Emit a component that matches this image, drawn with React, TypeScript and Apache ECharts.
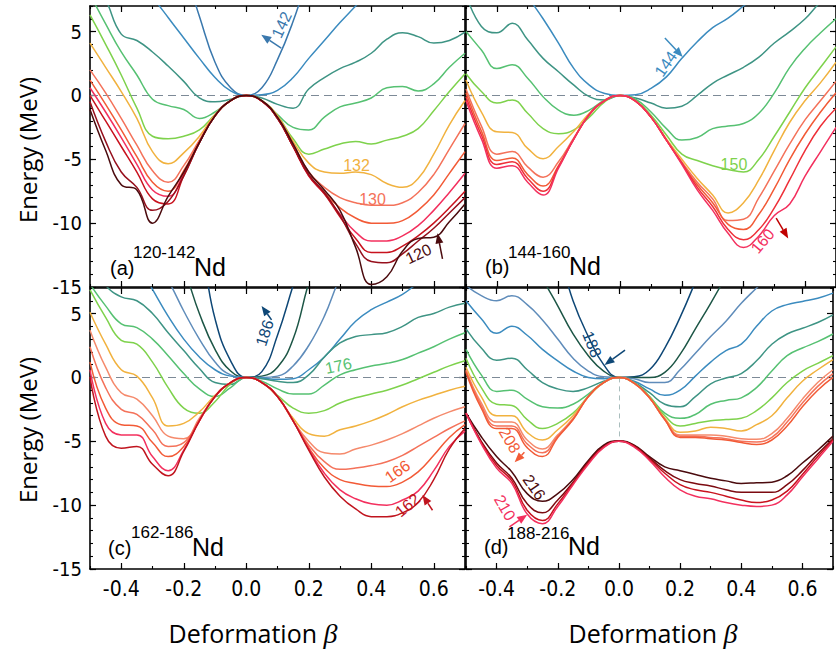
import React, { useEffect, useRef } from 'react';
import * as echarts from 'echarts';

const BETA = [-0.5,-0.45,-0.4,-0.35,-0.3,-0.25,-0.2,-0.15,-0.1,-0.05,0,0.05,0.1,0.15,0.2,0.25,0.3,0.35,0.4,0.45,0.5,0.55,0.6,0.65,0.7];
const X_TICKS_MAJOR = [-0.4,-0.2,0,0.2,0.4,0.6];
const Y_TICKS_MAJOR = [-15,-10,-5,0,5];

// Panel (a) 120-142 Nd
const A120 = [-1.1,-4.3,-7.0,-7.4,-10.0,-7.9,-6.0,-3.7,-1.6,-0.4,0,-0.4,-1.7,-3.8,-6.0,-7.4,-9.0,-11.9,-14.8,-14.2,-12.2,-11.2,-11.1,-9.9,-8.5];
const A122 = [-0.5,-3.6,-6.0,-7.2,-9.0,-8.3,-6.3,-3.7,-1.6,-0.4,0,-0.45,-1.8,-4.0,-6.2,-7.6,-9.4,-11.6,-13.0,-13.1,-12.4,-11.4,-10.4,-9.2,-8.0];
const A124 = [0.0,-2.0,-4.0,-6.0,-8.1,-8.5,-6.3,-3.7,-1.6,-0.4,0,-0.45,-1.8,-4.0,-6.3,-7.7,-9.5,-11.2,-12.3,-12.3,-11.8,-11.0,-10.0,-8.8,-7.5];
const A126 = [0.6,-1.3,-3.3,-5.4,-7.4,-7.9,-6.1,-3.7,-1.6,-0.4,0,-0.45,-1.8,-4.0,-6.3,-7.7,-9.3,-10.7,-11.4,-11.4,-11.0,-10.2,-9.0,-7.6,-6.1];
const A128 = [1.2,-0.7,-2.7,-4.8,-6.8,-7.5,-5.9,-3.6,-1.6,-0.4,0,-0.45,-1.75,-4.0,-6.2,-7.6,-8.8,-9.6,-10.0,-10.0,-9.8,-9.0,-7.8,-6.1,-4.4];
const A130 = [2.0,0.2,-1.8,-3.9,-5.9,-6.8,-5.5,-3.5,-1.6,-0.4,0,-0.45,-1.7,-3.8,-6.0,-7.2,-8.0,-8.4,-8.6,-8.6,-8.4,-7.6,-6.2,-4.2,-2.2];
const A132 = [4.1,2.2,0.3,-1.8,-4.4,-5.35,-4.5,-3.2,-1.5,-0.4,0,-0.4,-1.6,-3.6,-5.3,-6.0,-6.1,-6.0,-6.2,-6.9,-7.2,-6.5,-4.6,-2.3,-0.4];
const A134 = [6.3,4.0,1.6,-1.0,-3.2,-3.4,-3.2,-2.7,-1.5,-0.4,0,-0.4,-1.6,-3.4,-4.6,-4.2,-3.8,-3.6,-3.8,-3.5,-3.2,-2.6,-1.2,0.3,1.7];
const A136 = [7.9,5.6,3.4,1.6,-0.3,-0.8,-1.1,-1.8,-1.3,-0.4,0,-0.4,-1.5,-2.5,-2.7,-1.7,-0.9,-0.6,-0.2,0.6,0.7,0.35,0.9,2.2,3.3];
const A138 = [9.5,7.5,4.8,4.3,3.4,2.3,1.1,-0.2,-0.5,-0.3,0,-0.2,-0.7,-1.0,0.5,1.4,2.1,2.6,3.3,4.4,4.9,4.6,4.1,4.3,4.95];
const A140 = [14,13,12,10,7.8,6.1,4.5,2.9,1.4,0.35,0,0.05,0.4,1.4,2.9,4.3,5.7,7.0,8.3,9.5,10.5,11.5,12.5,13.5,14];
const A142 = [14,14,14,14,14,13,10,6.2,2.6,0.6,0,0.6,2.8,5.8,9.5,13,14,14,14,14,14,14,14,14,14];

// Panel (b) 144-160 Nd
const B144 = [14,13,12,10,7.8,6.0,4.1,2.1,0.8,0.15,0,0.05,0.55,1.45,2.9,4.2,5.3,6.05,7.0,8.0,9,10,11,12,13];
const B146 = [7.9,5.4,4.9,5.65,4.35,2.9,1.85,0.8,-0.1,-0.35,0,-0.2,-0.6,-1.0,-0.85,0.0,0.95,1.6,2.2,3.0,4.1,5.0,6.0,7.3,8.2];
const B148 = [5.0,3.55,2.1,2.4,1.35,-0.1,-1.15,-1.55,-1.15,-0.35,0,-0.3,-1.3,-2.6,-3.5,-3.3,-2.6,-2.4,-2.2,-1.4,0.2,2.2,3.7,4.9,6.0];
const B150 = [1.7,0.3,-0.6,-0.35,-1.4,-2.6,-3.0,-2.7,-1.7,-0.5,0,-0.4,-1.55,-3.1,-4.6,-5.1,-5.5,-5.8,-6.0,-5.0,-3.2,-1.3,0.6,2.2,3.8];
const B152 = [1.2,-1.3,-2.85,-2.9,-4.15,-4.95,-4.0,-2.8,-1.4,-0.4,0,-0.45,-1.7,-3.4,-5.0,-6.5,-7.8,-9.2,-8.4,-6.6,-4.3,-2.1,-0.4,1.0,2.6];
const B154 = [0.5,-2.4,-4.6,-4.4,-5.6,-6.4,-5.2,-3.3,-1.5,-0.4,0,-0.45,-1.7,-3.5,-5.2,-6.8,-8.1,-9.8,-9.7,-8.0,-5.9,-3.8,-1.9,-0.4,1.1];
const B156 = [0.2,-2.8,-5.1,-4.9,-6.2,-7.1,-5.5,-3.4,-1.5,-0.4,0,-0.45,-1.7,-3.5,-5.3,-7.0,-8.4,-10.1,-10.5,-9.3,-7.3,-5.0,-3.0,-1.3,0.2];
const B158 = [-0.1,-3.1,-5.4,-5.2,-6.5,-7.5,-5.6,-3.4,-1.5,-0.4,0,-0.45,-1.7,-3.5,-5.3,-7.2,-8.7,-10.5,-11.3,-10.5,-8.8,-6.6,-4.3,-2.4,-1.0];
const B160 = [-0.4,-3.4,-5.7,-5.5,-6.8,-7.8,-5.7,-3.4,-1.5,-0.4,0,-0.45,-1.7,-3.5,-5.4,-7.4,-9.0,-10.8,-11.9,-11.0,-9.4,-8.5,-6.3,-4.4,-2.5];

// Panel (c) 162-186 Nd
const C162 = [0.05,-4.6,-5.55,-5.4,-6.8,-7.7,-5.8,-3.4,-1.5,-0.4,0,-0.4,-1.5,-3.4,-5.7,-7.8,-9.3,-10.3,-10.9,-10.9,-10.6,-9.8,-8.0,-5.6,-4.0];
const C164 = [0.6,-3.6,-4.5,-4.5,-6.2,-7.3,-5.7,-3.4,-1.5,-0.4,0,-0.4,-1.5,-3.4,-5.6,-7.5,-8.8,-9.5,-9.9,-10.0,-9.6,-8.9,-7.3,-5.4,-4.2];
const C166 = [1.2,-2.4,-3.7,-3.8,-5.1,-6.2,-5.4,-3.4,-1.5,-0.4,0,-0.4,-1.5,-3.4,-5.5,-7.1,-8.0,-8.3,-8.5,-8.55,-8.2,-7.4,-6.1,-4.7,-3.7];
const C168 = [2.4,-0.8,-2.5,-2.9,-4.1,-5.4,-5.1,-3.3,-1.5,-0.4,0,-0.4,-1.5,-3.4,-5.3,-6.6,-7.2,-7.1,-6.9,-6.6,-6.1,-5.4,-4.7,-4.0,-3.4];
const C170 = [3.7,0.8,-1.2,-1.7,-3.0,-4.6,-4.8,-3.2,-1.5,-0.4,0,-0.4,-1.5,-3.4,-5.0,-5.9,-6.0,-5.6,-5.3,-4.9,-4.4,-3.8,-3.2,-2.7,-2.3];
const C172 = [5.1,2.6,0.6,0.1,-1.6,-3.8,-3.6,-2.7,-1.4,-0.4,0,-0.4,-1.5,-3.2,-4.4,-4.6,-4.1,-3.8,-3.4,-2.9,-2.3,-1.8,-1.4,-1.0,-0.7];
const C174 = [6.85,4.7,2.9,2.6,1.2,-0.8,-2.4,-2.8,-1.9,-0.5,0,-0.4,-1.4,-2.4,-2.8,-2.6,-2.0,-1.6,-1.3,-1.0,-0.6,-0.1,0.4,0.9,1.3];
const C176 = [7.3,5.6,4.2,3.9,3.0,1.7,0.3,-0.9,-1.5,-0.8,0,-0.3,-0.9,-1.3,-1.3,-0.6,0.2,0.6,0.9,1.1,1.4,1.9,2.4,3.0,3.5];
const C178 = [9.0,7.2,6.3,6.0,5.0,3.5,2.1,0.7,-0.4,-0.55,0,-0.1,-0.3,-0.4,0.2,1.6,2.7,3.2,3.35,3.5,4.0,4.7,5.0,5.5,5.8];
const C180 = [14,13,11,9,6.9,4.8,3.0,1.6,0.6,0.1,0,-0.05,-0.15,-0.1,0.6,1.6,3.0,4.4,5.3,5.9,6.5,7.4,8.3,9.2,10];
const C182 = [14,14,13,11,9.5,7.6,5.2,3.0,1.2,0.2,0,0.0,0.1,0.9,2.5,4.8,7.8,10,12,13,14,14,14,14,14];
const C184 = [14,14,14,14,13,11,8.5,5.0,2.2,0.5,0,0.1,0.8,3.0,7.4,11,14,14,14,14,14,14,14,14,14];
const C186 = [14,14,14,14,14,14,13,10.5,4.6,1.3,0,0.45,3.3,7.2,11,14,14,14,14,14,14,14,14,14,14];

// Panel (d) 188-216 Nd
const D188 = [14,14,14,14,14,13,10,6.0,3.2,1.0,0,0.05,0.6,2.3,4.7,7.5,10.5,13,14,14,14,14,14,14,14];
const D190 = [14,14,14,13,10.5,7.8,5.6,3.4,1.7,0.5,0,0.0,0.0,0.4,1.8,3.8,5.8,7.9,10,12,14,14,14,14,14];
const D192 = [7.2,6.4,6.0,6.4,5.7,4.5,3.0,1.5,0.5,0.05,0,-0.1,-0.4,-0.4,0.6,1.9,3.2,4.4,5.8,7.0,8.2,9.4,10.5,11.5,12.5];
const D194 = [6.0,4.6,3.45,4.0,3.3,2.2,1.3,0.5,0.0,-0.1,0,-0.3,-0.9,-1.4,-1.0,0.1,1.2,2.1,2.6,4.0,5.2,5.7,5.95,6.2,6.6];
const D196 = [3.8,2.3,1.35,1.5,0.6,-0.4,-0.9,-1.1,-0.8,-0.3,0,-0.4,-1.2,-2.1,-2.3,-1.5,-0.5,-0.05,0.3,1.3,2.6,3.4,3.85,4.3,4.9];
const D198 = [2.2,0.2,-1.1,-1.0,-1.7,-2.3,-2.4,-2.1,-1.3,-0.4,0,-0.4,-1.5,-2.8,-3.2,-2.9,-2.1,-1.8,-1.6,-0.8,0.5,1.7,2.3,2.8,3.4];
const D200 = [1.5,-0.8,-2.1,-2.2,-3.3,-4.0,-3.6,-2.8,-1.5,-0.4,0,-0.45,-1.5,-3.0,-3.8,-3.6,-3.4,-3.3,-3.2,-2.6,-1.6,-0.4,0.5,1.1,1.7];
const D202 = [0.8,-1.5,-3.0,-3.0,-4.3,-4.9,-4.1,-3.0,-1.5,-0.4,0,-0.45,-1.6,-3.2,-4.3,-4.2,-3.9,-4.0,-4.2,-3.7,-3.0,-1.6,-0.3,0.6,1.4];
const D204 = [0.6,-2.0,-3.5,-3.5,-4.9,-5.6,-4.5,-3.2,-1.5,-0.4,0,-0.45,-1.6,-3.3,-4.5,-4.5,-4.5,-4.6,-4.8,-4.85,-4.4,-3.2,-1.7,-0.4,0.6];
const D206 = [0.5,-2.2,-3.8,-3.8,-5.2,-5.9,-4.6,-3.3,-1.5,-0.4,0,-0.45,-1.6,-3.3,-4.6,-4.6,-4.7,-4.8,-5.0,-5.05,-4.7,-3.5,-2.0,-0.7,0.3];
const D208 = [0.4,-2.4,-4.0,-4.0,-5.5,-6.2,-4.7,-3.3,-1.5,-0.4,0,-0.45,-1.6,-3.3,-4.7,-4.7,-4.8,-4.9,-5.1,-5.25,-4.9,-3.8,-2.3,-1.0,0.0];
const D210 = [-2.8,-5.2,-7.1,-8.3,-10.7,-11.45,-10.1,-8.4,-6.8,-5.5,-5.0,-5.45,-6.5,-7.8,-8.8,-9.3,-9.5,-9.8,-10.0,-10.1,-10.0,-9.2,-7.8,-6.4,-5.0];
const D212 = [-2.8,-5.1,-6.9,-8.1,-10.4,-11.2,-9.9,-8.3,-6.7,-5.45,-5.0,-5.4,-6.4,-7.5,-8.4,-8.8,-9.0,-9.3,-9.6,-9.8,-9.6,-8.9,-7.6,-6.2,-4.9];
const D214 = [-2.8,-5.0,-6.7,-7.9,-9.9,-10.6,-9.6,-8.2,-6.6,-5.4,-5.0,-5.35,-6.3,-7.3,-8.0,-8.3,-8.5,-8.8,-9.0,-9.0,-9.0,-8.4,-7.3,-6.0,-4.8];
const D216 = [-2.8,-4.65,-6.2,-7.4,-9.1,-9.7,-9.1,-8.0,-6.5,-5.3,-4.96,-5.3,-6.2,-7.0,-7.3,-7.6,-7.9,-8.1,-8.3,-8.25,-8.2,-7.7,-6.7,-5.7,-4.6];

const COL = {
  maroon: '#4b0b0e', darkred: '#7c0a10', crimson: '#c8121e', red162: '#c0141e',
  red: '#ee3038', pink: '#f3305e', orangered: '#f25a36', salmon: '#f4725a',
  lightsalmon: '#f58a6c', orange: '#f1b23f', lime: '#7ed24c', green: '#56c172',
  teal: '#3e9484', blue: '#3b8bbf', blue2: '#3a78ad', steel: '#5f8cba',
  darkgreen: '#1d5646', navy: '#0e4776',
};

type Curve = [string, number[], string];
const PANELS: { left: number; top: number; showX: boolean; showY: boolean; curves: Curve[] }[] = [
  { left: 90, top: 6, showX: false, showY: true, curves: [
    ['142', A142, COL.blue2], ['140', A140, COL.blue], ['138', A138, COL.teal], ['136', A136, COL.green],
    ['134', A134, COL.lime], ['132', A132, COL.orange], ['130', A130, COL.salmon], ['128', A128, COL.orangered],
    ['126', A126, COL.pink], ['124', A124, COL.crimson], ['122', A122, '#960f1c'], ['120', A120, COL.maroon],
  ] },
  { left: 466, top: 6, showX: false, showY: false, curves: [
    ['144', B144, COL.blue], ['146', B146, COL.teal], ['148', B148, COL.green], ['150', B150, COL.lime],
    ['152', B152, COL.orange], ['154', B154, COL.salmon], ['156', B156, COL.orangered], ['158', B158, COL.red],
    ['160', B160, COL.pink],
  ] },
  { left: 90, top: 288, showX: true, showY: true, curves: [
    ['186', C186, COL.navy], ['184', C184, COL.darkgreen], ['182', C182, COL.steel], ['180', C180, COL.blue],
    ['178', C178, COL.teal], ['176', C176, COL.green], ['174', C174, COL.lime], ['172', C172, COL.orange],
    ['170', C170, COL.lightsalmon], ['168', C168, COL.salmon], ['166', C166, COL.orangered], ['164', C164, COL.pink],
    ['162', C162, COL.red162],
  ] },
  { left: 466, top: 288, showX: true, showY: false, curves: [
    ['188', D188, COL.navy], ['190', D190, COL.darkgreen], ['192', D192, COL.steel], ['194', D194, COL.blue],
    ['196', D196, COL.teal], ['198', D198, COL.green], ['200', D200, COL.lime], ['202', D202, COL.orange],
    ['204', D204, COL.lightsalmon], ['206', D206, COL.salmon], ['208', D208, COL.orangered],
    ['216', D216, COL.maroon], ['214', D214, COL.darkred], ['212', D212, COL.crimson], ['210', D210, COL.pink],
  ] },
];

const LABELS = [
  { g: 0, text: '142', x: 0.113, y: 5.53, rot: 65, color: COL.blue2 },
  { g: 0, text: '132', x: 0.353, y: -5.5, rot: 0, color: COL.orange },
  { g: 0, text: '130', x: 0.404, y: -8.15, rot: 0, color: COL.salmon },
  { g: 0, text: '120', x: 0.551, y: -12.4, rot: 25, color: COL.maroon },
  { g: 1, text: '144', x: 0.148, y: 2.46, rot: 55, color: COL.blue },
  { g: 1, text: '150', x: 0.369, y: -5.4, rot: 0, color: COL.lime },
  { g: 1, text: '160', x: 0.462, y: -11.4, rot: 50, color: COL.pink },
  { g: 2, text: '186', x: 0.059, y: 3.48, rot: 72, color: COL.navy },
  { g: 2, text: '176', x: 0.295, y: 0.9, rot: 12, color: COL.green },
  { g: 2, text: '166', x: 0.484, y: -7.35, rot: 35, color: COL.orangered },
  { g: 2, text: '162', x: 0.516, y: -10.0, rot: 40, color: COL.red162 },
  { g: 3, text: '188', x: -0.088, y: 2.6, rot: -68, color: COL.navy },
  { g: 3, text: '208', x: -0.357, y: -4.92, rot: -60, color: COL.orangered },
  { g: 3, text: '216', x: -0.277, y: -8.6, rot: -55, color: COL.maroon },
  { g: 3, text: '210', x: -0.373, y: -10.2, rot: -60, color: COL.pink },
];
const ARROWS = [
  { g: 0, from: [0.112, 3.7], to: [0.048, 4.75], color: COL.blue2 },
  { g: 0, from: [0.628, -12.8], to: [0.612, -10.8], color: COL.maroon },
  { g: 1, from: [0.145, 4.5], to: [0.203, 3.0], color: COL.blue },
  { g: 1, from: [0.506, -9.6], to: [0.545, -11.2], color: '#c00000' },
  { g: 2, from: [0.081, 4.5], to: [0.049, 5.6], color: COL.navy },
  { g: 2, from: [0.596, -10.4], to: [0.564, -9.2], color: COL.red162 },
  { g: 3, from: [0.02, 2.14], to: [-0.047, 0.97], color: COL.navy },
  { g: 3, from: [-0.309, -5.86], to: [-0.341, -6.65], color: COL.orangered },
  { g: 3, from: [-0.358, -11.7], to: [-0.3, -10.75], color: COL.pink },
];
const TAGS = [
  { tag: '(a)', iso: '120-142', x: 110, y: 268, sy: 252 },
  { tag: '(b)', iso: '144-160', x: 485, y: 267, sy: 252 },
  { tag: '(c)', iso: '162-186', x: 108, y: 548, sy: 532 },
  { tag: '(d)', iso: '188-216', x: 484, y: 547, sy: 533 },
];

const TICK_FONT = "'Liberation Sans Narrow', 'DejaVu Sans Condensed', 'Liberation Sans', sans-serif";
const TEXT_FONT = "'Liberation Sans', Arial, sans-serif";
const TITLE_FONT = "'Open Sans', 'Liberation Sans', sans-serif";
const GW = 375, GH = 281;

function buildOption() {
  const grid: any[] = [], xAxis: any[] = [], yAxis: any[] = [], series: any[] = [];
  const firstSeries: number[] = [];
  PANELS.forEach((p, g) => {
    grid.push({ left: p.left, top: p.top, width: GW, height: GH });
    const xBase = { gridIndex: g, type: 'value', min: -0.5, max: 0.7, interval: 0.1, splitLine: { show: false } };
    const yBase = { gridIndex: g, type: 'value', min: -15, max: 7, interval: 1, splitLine: { show: false } };
    const line = { show: true, onZero: false, lineStyle: { color: '#000', width: 1.6 } };
    const noLine = { show: false, onZero: false };
    const xFmt = (v: number) => {
      const t = Math.round(v * 10);
      if (t % 2 !== 0) return '';
      return (t / 10).toFixed(1);
    };
    ['bottom', 'top'].forEach((pos) => {
      xAxis.push({ ...xBase, position: pos, axisLine: line,
        axisTick: { show: true, inside: true, length: 6, customValues: X_TICKS_MAJOR, lineStyle: { color: '#000', width: 1.2 } },
        axisLabel: { show: pos === 'bottom' && p.showX, formatter: xFmt, margin: 9, fontSize: 21, color: '#000', fontFamily: TICK_FONT } });
      xAxis.push({ ...xBase, position: pos, axisLine: noLine,
        axisTick: { show: true, inside: true, length: 3, lineStyle: { color: '#000', width: 1.1 } },
        axisLabel: { show: false } });
    });
    ['left', 'right'].forEach((pos) => {
      yAxis.push({ ...yBase, position: pos, axisLine: line,
        axisTick: { show: true, inside: true, length: 6, customValues: Y_TICKS_MAJOR, lineStyle: { color: '#000', width: 1.2 } },
        axisLabel: { show: pos === 'left' && p.showY, formatter: (v: number) => (Math.round(v) % 5 === 0 ? String(Math.round(v)) : ''), margin: 8, fontSize: 20, color: '#000', fontFamily: TICK_FONT } });
      yAxis.push({ ...yBase, position: pos, axisLine: noLine,
        axisTick: { show: true, inside: true, length: 3, lineStyle: { color: '#000', width: 1.1 } },
        axisLabel: { show: false } });
    });
    p.curves.forEach(([name, vals, color], ci) => {
      const s: any = {
        type: 'line', name, xAxisIndex: g * 4, yAxisIndex: g * 4,
        data: BETA.map((b, i) => [b, vals[i]]), smooth: 0.45, showSymbol: false, symbol: 'none',
        clip: true, lineStyle: { color, width: 1.5 }, itemStyle: { color }, z: 3,
      };
      if (ci === 0) {
        firstSeries.push(series.length);
        const data: any[] = [{ yAxis: 0, lineStyle: { color: '#7d8a97', type: [8, 5], width: 1 } }];
        if (g === 3) data.push([{ coord: [0, 0], lineStyle: { color: '#a9bdbd', type: [5, 4], width: 1 } }, { coord: [0, -5] }]);
        s.markLine = { silent: true, symbol: 'none', label: { show: false }, animation: false, data, z: 2 };
      }
      series.push(s);
    });
  });
  return { option: { animation: false, backgroundColor: '#fff', grid, xAxis, yAxis, series }, firstSeries };
}

export default function App() {
  const ref = useRef<HTMLDivElement>(null);
  useEffect(() => {
    const chart = echarts.init(ref.current!, undefined, { renderer: 'svg' });
    const { option, firstSeries } = buildOption();
    chart.setOption(option);
    const px = (g: number, v: number[]) => chart.convertToPixel({ seriesIndex: firstSeries[g] }, v) as number[];
    const graphic: any[] = [];
    LABELS.forEach((l) => {
      const [x, y] = px(l.g, [l.x, l.y]);
      graphic.push({ type: 'text', x, y, rotation: (l.rot * Math.PI) / 180, z: 100,
        style: { text: l.text, fill: l.color, fontSize: 16, fontFamily: TEXT_FONT, align: 'center', verticalAlign: 'middle' } });
    });
    ARROWS.forEach((a) => {
      const [x1, y1] = px(a.g, a.from);
      const [x2, y2] = px(a.g, a.to);
      const dx = x2 - x1, dy = y2 - y1;
      const len = Math.sqrt(dx * dx + dy * dy) || 1;
      const ux = dx / len, uy = dy / len;
      const hl = 10, hw = 4;
      const bx = x2 - ux * hl, by = y2 - uy * hl;
      graphic.push({ type: 'line', z: 100, shape: { x1, y1, x2: bx, y2: by }, style: { stroke: a.color, lineWidth: 1.5 } });
      graphic.push({ type: 'polygon', z: 100, shape: { points: [[x2, y2], [bx - uy * hw, by + ux * hw], [bx + uy * hw, by - ux * hw]] }, style: { fill: a.color } });
    });
    TAGS.forEach((t) => {
      graphic.push({ type: 'text', x: t.x, y: t.y, z: 100, style: { text: t.tag, fill: '#000', fontSize: 20, fontFamily: TEXT_FONT, align: 'left', verticalAlign: 'middle' } });
      graphic.push({ type: 'text', x: t.x + 23, y: t.sy, z: 100, style: { text: t.iso, fill: '#000', fontSize: 17, fontFamily: TEXT_FONT, align: 'left', verticalAlign: 'middle' } });
      graphic.push({ type: 'text', x: t.x + 84, y: t.y - 1, z: 100, style: { text: 'Nd', fill: '#000', fontSize: 25, fontFamily: TEXT_FONT, align: 'left', verticalAlign: 'middle' } });
    });
    [150, 430].forEach((cy) => {
      graphic.push({ type: 'text', x: 27, y: cy, rotation: Math.PI / 2, z: 100,
        style: { text: 'Energy (MeV)', fill: '#000', fontSize: 24, fontFamily: TITLE_FONT, align: 'center', verticalAlign: 'middle' } });
    });
    [253, 653].forEach((cx) => {
      graphic.push({ type: 'text', x: cx, y: 633, z: 100,
        style: { text: 'Deformation {b|β}', fill: '#000', fontSize: 25, fontFamily: TITLE_FONT, align: 'center', verticalAlign: 'middle',
          rich: { b: { fontSize: 28, fontStyle: 'italic', fontFamily: "'Liberation Serif', 'DejaVu Serif', serif", fill: '#000' } } } });
    });
    chart.setOption({ graphic });
    return () => chart.dispose();
  }, []);
  return <div ref={ref} style={{ position: 'absolute', left: 0, top: 0, width: 836, height: 653, background: '#fff' }} />;
}
